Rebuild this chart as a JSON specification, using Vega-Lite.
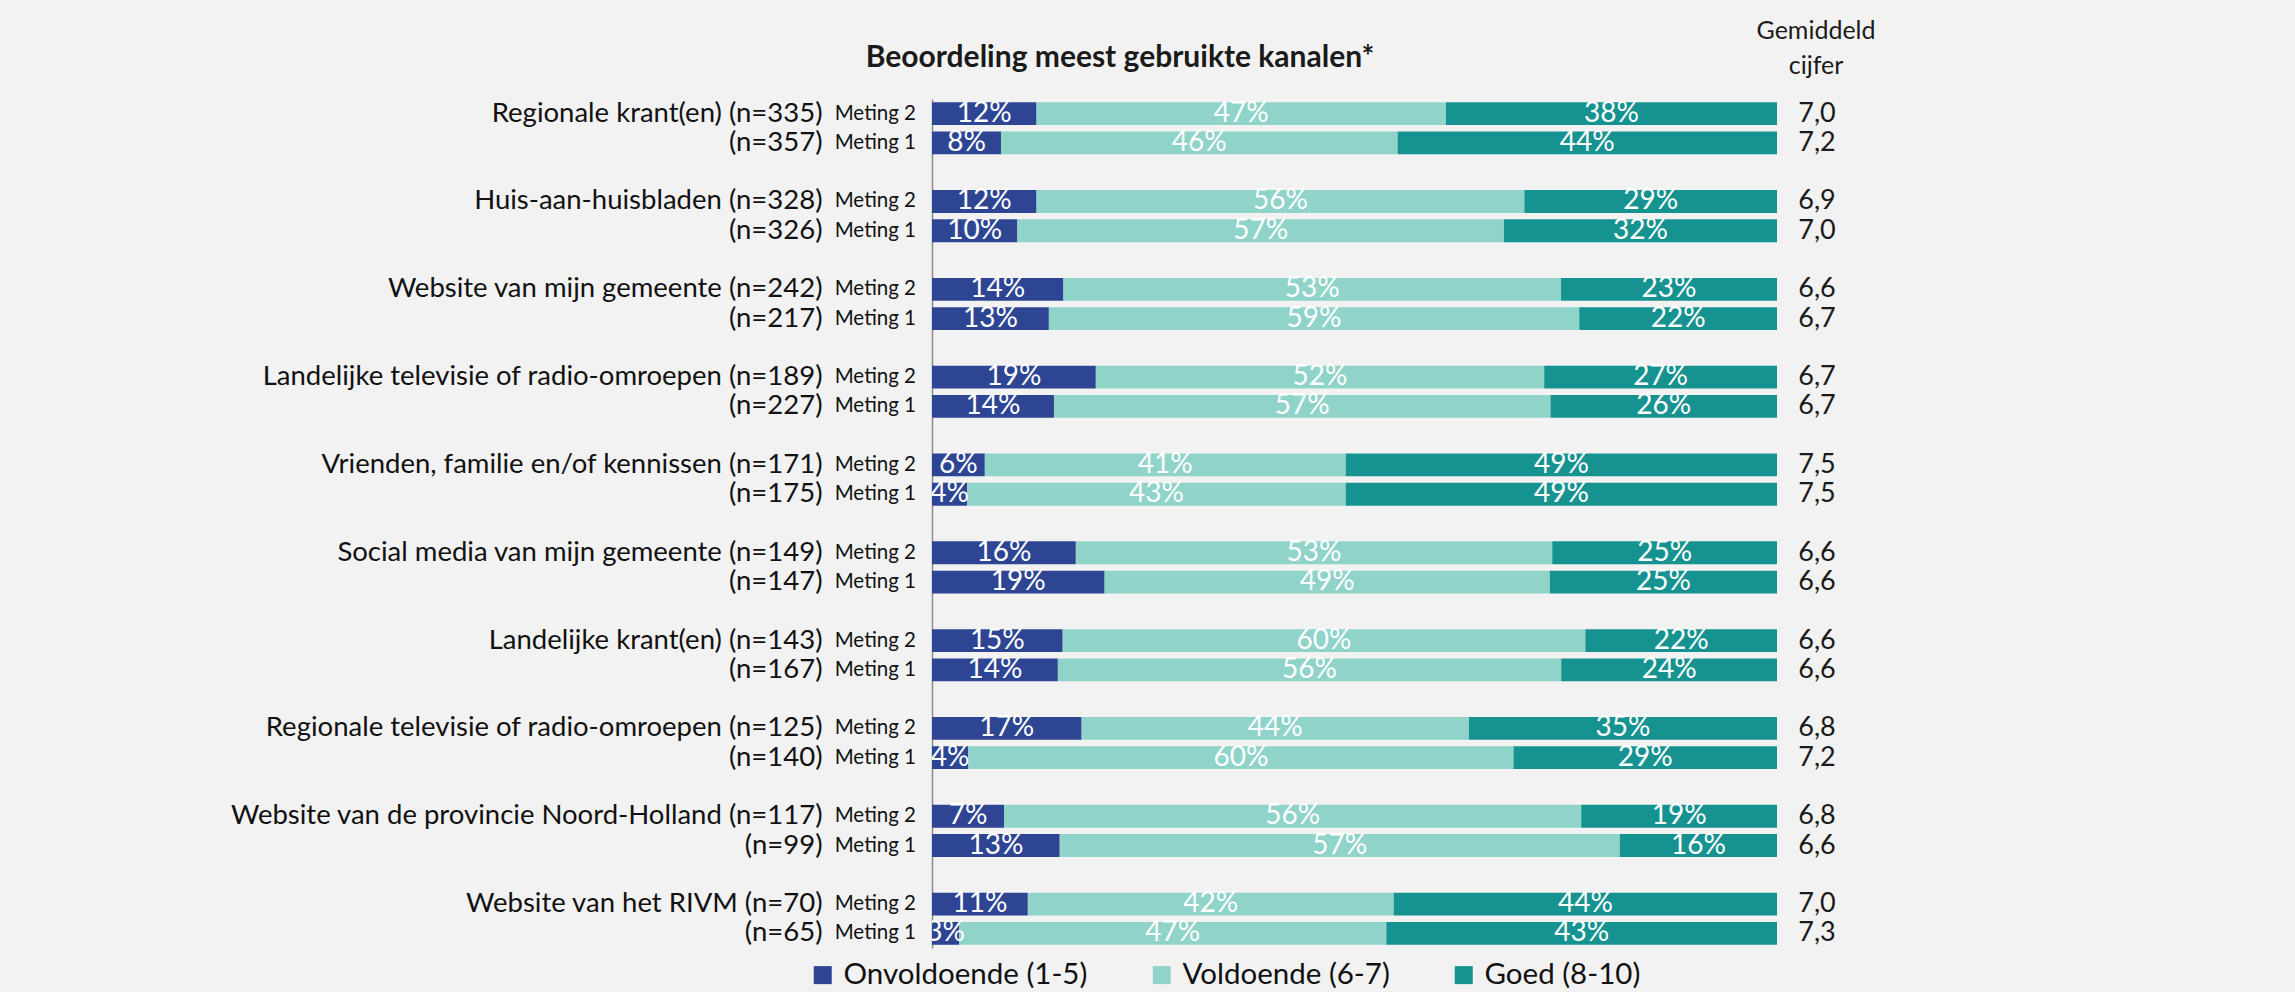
{
  "$schema": "https://vega.github.io/schema/vega-lite/v6.json",
  "width": 845,
  "height": 849,
  "autosize": "none",
  "padding": {"left": 932, "top": 99, "right": 518, "bottom": 44},
  "background": "#f2f2f2",
  "config": {
    "view": {"stroke": null},
    "font": "Lato",
    "locale": {"number": {"decimal": ",", "thousands": ".", "grouping": [3], "currency": ["€", ""]}}
  },
  "datasets": {
    "segs": [
      {"r": "Regionale krant(en) (n=335)", "c": "Onvoldoende (1-5)", "v": 0.12, "o": 1},
      {"r": "Regionale krant(en) (n=335)", "c": "Voldoende (6-7)", "v": 0.47, "o": 2},
      {"r": "Regionale krant(en) (n=335)", "c": "Goed (8-10)", "v": 0.38, "o": 3},
      {"r": "(n=357)", "c": "Onvoldoende (1-5)", "v": 0.08, "o": 1},
      {"r": "(n=357)", "c": "Voldoende (6-7)", "v": 0.46, "o": 2},
      {"r": "(n=357)", "c": "Goed (8-10)", "v": 0.44, "o": 3},
      {"r": "Huis-aan-huisbladen (n=328)", "c": "Onvoldoende (1-5)", "v": 0.12, "o": 1},
      {"r": "Huis-aan-huisbladen (n=328)", "c": "Voldoende (6-7)", "v": 0.56, "o": 2},
      {"r": "Huis-aan-huisbladen (n=328)", "c": "Goed (8-10)", "v": 0.29, "o": 3},
      {"r": "(n=326)", "c": "Onvoldoende (1-5)", "v": 0.10, "o": 1},
      {"r": "(n=326)", "c": "Voldoende (6-7)", "v": 0.57, "o": 2},
      {"r": "(n=326)", "c": "Goed (8-10)", "v": 0.32, "o": 3},
      {"r": "Website van mijn gemeente (n=242)", "c": "Onvoldoende (1-5)", "v": 0.14, "o": 1},
      {"r": "Website van mijn gemeente (n=242)", "c": "Voldoende (6-7)", "v": 0.53, "o": 2},
      {"r": "Website van mijn gemeente (n=242)", "c": "Goed (8-10)", "v": 0.23, "o": 3},
      {"r": "(n=217)", "c": "Onvoldoende (1-5)", "v": 0.13, "o": 1},
      {"r": "(n=217)", "c": "Voldoende (6-7)", "v": 0.59, "o": 2},
      {"r": "(n=217)", "c": "Goed (8-10)", "v": 0.22, "o": 3},
      {"r": "Landelijke televisie of radio-omroepen (n=189)", "c": "Onvoldoende (1-5)", "v": 0.19, "o": 1},
      {"r": "Landelijke televisie of radio-omroepen (n=189)", "c": "Voldoende (6-7)", "v": 0.52, "o": 2},
      {"r": "Landelijke televisie of radio-omroepen (n=189)", "c": "Goed (8-10)", "v": 0.27, "o": 3},
      {"r": "(n=227)", "c": "Onvoldoende (1-5)", "v": 0.14, "o": 1},
      {"r": "(n=227)", "c": "Voldoende (6-7)", "v": 0.57, "o": 2},
      {"r": "(n=227)", "c": "Goed (8-10)", "v": 0.26, "o": 3},
      {"r": "Vrienden, familie en/of kennissen (n=171)", "c": "Onvoldoende (1-5)", "v": 0.06, "o": 1},
      {"r": "Vrienden, familie en/of kennissen (n=171)", "c": "Voldoende (6-7)", "v": 0.41, "o": 2},
      {"r": "Vrienden, familie en/of kennissen (n=171)", "c": "Goed (8-10)", "v": 0.49, "o": 3},
      {"r": "(n=175)", "c": "Onvoldoende (1-5)", "v": 0.04, "o": 1},
      {"r": "(n=175)", "c": "Voldoende (6-7)", "v": 0.43, "o": 2},
      {"r": "(n=175)", "c": "Goed (8-10)", "v": 0.49, "o": 3},
      {"r": "Social media van mijn gemeente (n=149)", "c": "Onvoldoende (1-5)", "v": 0.16, "o": 1},
      {"r": "Social media van mijn gemeente (n=149)", "c": "Voldoende (6-7)", "v": 0.53, "o": 2},
      {"r": "Social media van mijn gemeente (n=149)", "c": "Goed (8-10)", "v": 0.25, "o": 3},
      {"r": "(n=147)", "c": "Onvoldoende (1-5)", "v": 0.19, "o": 1},
      {"r": "(n=147)", "c": "Voldoende (6-7)", "v": 0.49, "o": 2},
      {"r": "(n=147)", "c": "Goed (8-10)", "v": 0.25, "o": 3},
      {"r": "Landelijke krant(en) (n=143)", "c": "Onvoldoende (1-5)", "v": 0.15, "o": 1},
      {"r": "Landelijke krant(en) (n=143)", "c": "Voldoende (6-7)", "v": 0.60, "o": 2},
      {"r": "Landelijke krant(en) (n=143)", "c": "Goed (8-10)", "v": 0.22, "o": 3},
      {"r": "(n=167)", "c": "Onvoldoende (1-5)", "v": 0.14, "o": 1},
      {"r": "(n=167)", "c": "Voldoende (6-7)", "v": 0.56, "o": 2},
      {"r": "(n=167)", "c": "Goed (8-10)", "v": 0.24, "o": 3},
      {"r": "Regionale televisie of radio-omroepen (n=125)", "c": "Onvoldoende (1-5)", "v": 0.17, "o": 1},
      {"r": "Regionale televisie of radio-omroepen (n=125)", "c": "Voldoende (6-7)", "v": 0.44, "o": 2},
      {"r": "Regionale televisie of radio-omroepen (n=125)", "c": "Goed (8-10)", "v": 0.35, "o": 3},
      {"r": "(n=140)", "c": "Onvoldoende (1-5)", "v": 0.04, "o": 1},
      {"r": "(n=140)", "c": "Voldoende (6-7)", "v": 0.60, "o": 2},
      {"r": "(n=140)", "c": "Goed (8-10)", "v": 0.29, "o": 3},
      {"r": "Website van de provincie Noord-Holland (n=117)", "c": "Onvoldoende (1-5)", "v": 0.07, "o": 1},
      {"r": "Website van de provincie Noord-Holland (n=117)", "c": "Voldoende (6-7)", "v": 0.56, "o": 2},
      {"r": "Website van de provincie Noord-Holland (n=117)", "c": "Goed (8-10)", "v": 0.19, "o": 3},
      {"r": "(n=99)", "c": "Onvoldoende (1-5)", "v": 0.13, "o": 1},
      {"r": "(n=99)", "c": "Voldoende (6-7)", "v": 0.57, "o": 2},
      {"r": "(n=99)", "c": "Goed (8-10)", "v": 0.16, "o": 3},
      {"r": "Website van het RIVM (n=70)", "c": "Onvoldoende (1-5)", "v": 0.11, "o": 1},
      {"r": "Website van het RIVM (n=70)", "c": "Voldoende (6-7)", "v": 0.42, "o": 2},
      {"r": "Website van het RIVM (n=70)", "c": "Goed (8-10)", "v": 0.44, "o": 3},
      {"r": "(n=65)", "c": "Onvoldoende (1-5)", "v": 0.03, "o": 1},
      {"r": "(n=65)", "c": "Voldoende (6-7)", "v": 0.47, "o": 2},
      {"r": "(n=65)", "c": "Goed (8-10)", "v": 0.43, "o": 3}
    ],
    "rows": [
      {"r": "Regionale krant(en) (n=335)", "m": "Meting 2", "g": 7.0},
      {"r": "(n=357)", "m": "Meting 1", "g": 7.2},
      {"r": "Huis-aan-huisbladen (n=328)", "m": "Meting 2", "g": 6.9},
      {"r": "(n=326)", "m": "Meting 1", "g": 7.0},
      {"r": "Website van mijn gemeente (n=242)", "m": "Meting 2", "g": 6.6},
      {"r": "(n=217)", "m": "Meting 1", "g": 6.7},
      {"r": "Landelijke televisie of radio-omroepen (n=189)", "m": "Meting 2", "g": 6.7},
      {"r": "(n=227)", "m": "Meting 1", "g": 6.7},
      {"r": "Vrienden, familie en/of kennissen (n=171)", "m": "Meting 2", "g": 7.5},
      {"r": "(n=175)", "m": "Meting 1", "g": 7.5},
      {"r": "Social media van mijn gemeente (n=149)", "m": "Meting 2", "g": 6.6},
      {"r": "(n=147)", "m": "Meting 1", "g": 6.6},
      {"r": "Landelijke krant(en) (n=143)", "m": "Meting 2", "g": 6.6},
      {"r": "(n=167)", "m": "Meting 1", "g": 6.6},
      {"r": "Regionale televisie of radio-omroepen (n=125)", "m": "Meting 2", "g": 6.8},
      {"r": "(n=140)", "m": "Meting 1", "g": 7.2},
      {"r": "Website van de provincie Noord-Holland (n=117)", "m": "Meting 2", "g": 6.8},
      {"r": "(n=99)", "m": "Meting 1", "g": 6.6},
      {"r": "Website van het RIVM (n=70)", "m": "Meting 2", "g": 7.0},
      {"r": "(n=65)", "m": "Meting 1", "g": 7.3}
    ],
    "hdr": [{"t": "Gemiddeld\ncijfer", "title": "Beoordeling meest gebruikte kanalen*"}]
  },
  "encoding": {
    "y": {
      "field": "r",
      "type": "nominal",
      "scale": {
        "domain": [
          "Regionale krant(en) (n=335)", "(n=357)", " ",
          "Huis-aan-huisbladen (n=328)", "(n=326)", "  ",
          "Website van mijn gemeente (n=242)", "(n=217)", "   ",
          "Landelijke televisie of radio-omroepen (n=189)", "(n=227)", "    ",
          "Vrienden, familie en/of kennissen (n=171)", "(n=175)", "     ",
          "Social media van mijn gemeente (n=149)", "(n=147)", "      ",
          "Landelijke krant(en) (n=143)", "(n=167)", "       ",
          "Regionale televisie of radio-omroepen (n=125)", "(n=140)", "        ",
          "Website van de provincie Noord-Holland (n=117)", "(n=99)", "         ",
          "Website van het RIVM (n=70)", "(n=65)"
        ],
        "paddingInner": 0.22,
        "paddingOuter": 0.11
      },
      "axis": {
        "title": null,
        "ticks": false,
        "labelPadding": 110,
        "labelFontSize": 27.5,
        "labelColor": "#111111",
        "labelLimit": 0,
        "domainColor": "#8c8c8c",
        "domainWidth": 1.5,
        "grid": false
      }
    }
  },
  "layer": [
    {
      "data": {"name": "segs"},
      "mark": {"type": "bar"},
      "encoding": {
        "x": {"field": "v", "type": "quantitative", "stack": "normalize", "axis": null},
        "color": {
          "field": "c",
          "type": "nominal",
          "scale": {
            "domain": ["Onvoldoende (1-5)", "Voldoende (6-7)", "Goed (8-10)"],
            "range": ["#2e4593", "#8fd3c9", "#169391"]
          },
          "legend": {
            "title": null,
            "orient": "none",
            "direction": "horizontal",
            "legendX": -124,
            "legendY": 861,
            "symbolType": "square",
            "symbolSize": 324,
            "symbolStrokeWidth": 0,
            "labelFontSize": 29.5,
            "labelColor": "#111111",
            "labelOffset": 6,
            "columnPadding": 59,
            "padding": 0,
            "labelLimit": 0
          }
        },
        "order": {"field": "o", "type": "quantitative"}
      }
    },
    {
      "data": {"name": "segs"},
      "mark": {"type": "text", "color": "white", "fontSize": 28, "clip": true, "baseline": "middle"},
      "encoding": {
        "x": {"field": "v", "type": "quantitative", "stack": "normalize", "bandPosition": 0.5},
        "detail": {"field": "c"},
        "order": {"field": "o", "type": "quantitative"},
        "text": {"field": "v", "type": "quantitative", "format": ".0%"}
      }
    },
    {
      "data": {"name": "rows"},
      "mark": {"type": "text", "align": "right", "dx": -16, "fontSize": 20.5, "color": "#111111", "baseline": "middle"},
      "encoding": {
        "x": {"datum": 0, "type": "quantitative"},
        "text": {"field": "m"}
      }
    },
    {
      "data": {"name": "rows"},
      "mark": {"type": "text", "align": "center", "dx": 40, "fontSize": 27, "color": "#1a1a1a", "baseline": "middle"},
      "encoding": {
        "x": {"datum": 1, "type": "quantitative"},
        "text": {"field": "g", "type": "quantitative", "format": ".1f"}
      }
    },
    {
      "data": {"name": "hdr"},
      "mark": {"type": "text", "align": "center", "dx": 39, "dy": -83, "fontSize": 25, "lineHeight": 35, "lineBreak": "\n", "color": "#1a1a1a", "baseline": "middle"},
      "encoding": {
        "x": {"datum": 1, "type": "quantitative"},
        "y": {"datum": "Regionale krant(en) (n=335)"},
        "text": {"field": "t"}
      }
    },
    {
      "data": {"name": "hdr"},
      "mark": {"type": "text", "align": "center", "dx": 188, "dy": -56, "fontSize": 30, "fontWeight": "bold", "color": "#1a1a1a", "baseline": "middle"},
      "encoding": {
        "x": {"datum": 0, "type": "quantitative"},
        "y": {"datum": "Regionale krant(en) (n=335)"},
        "text": {"field": "title"}
      }
    }
  ]
}
